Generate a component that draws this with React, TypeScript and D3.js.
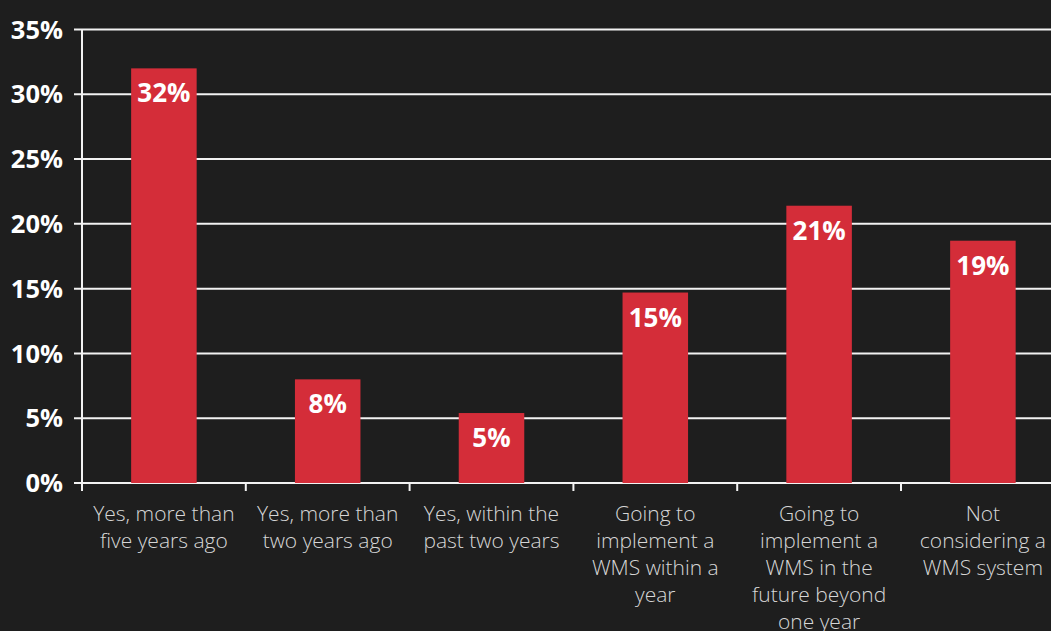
import React from "react";
import * as d3 from "d3";

const categories: string[][] = [
  ["Yes, more than", "five years ago"],
  ["Yes, more than", "two years ago"],
  ["Yes, within the", "past two years"],
  ["Going to", "implement a", "WMS within a", "year"],
  ["Going to", "implement a", "WMS in the", "future beyond", "one year"],
  ["Not", "considering a", "WMS system"],
];
const values: number[] = [32.0, 8.0, 5.4, 14.7, 21.4, 18.7];
const valueLabels: string[] = ["32%", "8%", "5%", "15%", "21%", "19%"];
const yTicks: number[] = [0, 5, 10, 15, 20, 25, 30, 35];

const W = 1051;
const H = 631;
const left = 82;
const step = 163.8;
const top = 29.5;
const bottom = 483;

export default function App() {
  const idx = categories.map((_, i) => String(i));
  const x = d3
    .scaleBand<string>()
    .domain(idx)
    .range([left, left + step * categories.length])
    .padding(0);
  const y = d3.scaleLinear().domain([0, 35]).range([bottom, top]);
  const bw = x.bandwidth() * 0.4;
  const font = "'Open Sans', 'Noto Sans', sans-serif";
  const bg = "#1e1e1e";
  const grid = "#f2f2f2";

  return (
    <div style={{ position: "fixed", left: 0, top: 0, width: W, height: H, background: bg }}>
      <svg width={W} height={H} style={{ display: "block" }}>
        <rect width={W} height={H} fill={bg} />
        {yTicks.map((t) => (
          <g key={t}>
            <line x1={74} x2={W} y1={y(t)} y2={y(t)} stroke={grid} strokeWidth={2} />
            <text
              x={63}
              y={y(t)}
              dy="0.36em"
              textAnchor="end"
              fill="#ffffff"
              fontFamily={font}
              fontWeight={700}
              fontSize={25.5}
            >
              {t}%
            </text>
          </g>
        ))}
        <line x1={left} x2={left} y1={top} y2={bottom + 8} stroke={grid} strokeWidth={2} />
        {idx.map((k) => (
          <line
            key={"t" + k}
            x1={(x(k) as number) + step}
            x2={(x(k) as number) + step}
            y1={bottom}
            y2={bottom + 8}
            stroke={grid}
            strokeWidth={2}
          />
        ))}
        {values.map((v, i) => {
          const cx = (x(String(i)) as number) + x.bandwidth() / 2;
          return (
            <g key={"b" + i}>
              <rect x={cx - bw / 2} y={y(v)} width={bw} height={y(0) - y(v)} fill="#d42d39" />
              <text
                x={cx}
                y={y(v) + 34}
                textAnchor="middle"
                fill="#ffffff"
                fontFamily={font}
                fontWeight={700}
                fontSize={26}
              >
                {valueLabels[i]}
              </text>
            </g>
          );
        })}
        {categories.map((lines, i) => {
          const cx = (x(String(i)) as number) + x.bandwidth() / 2;
          return (
            <text
              key={"c" + i}
              x={cx}
              textAnchor="middle"
              fill="#d6d6d6"
              fontFamily={font}
              fontWeight={300}
              fontSize={21}
            >
              {lines.map((l, j) => (
                <tspan key={j} x={cx} y={521 + j * 27}>
                  {l}
                </tspan>
              ))}
            </text>
          );
        })}
      </svg>
    </div>
  );
}
